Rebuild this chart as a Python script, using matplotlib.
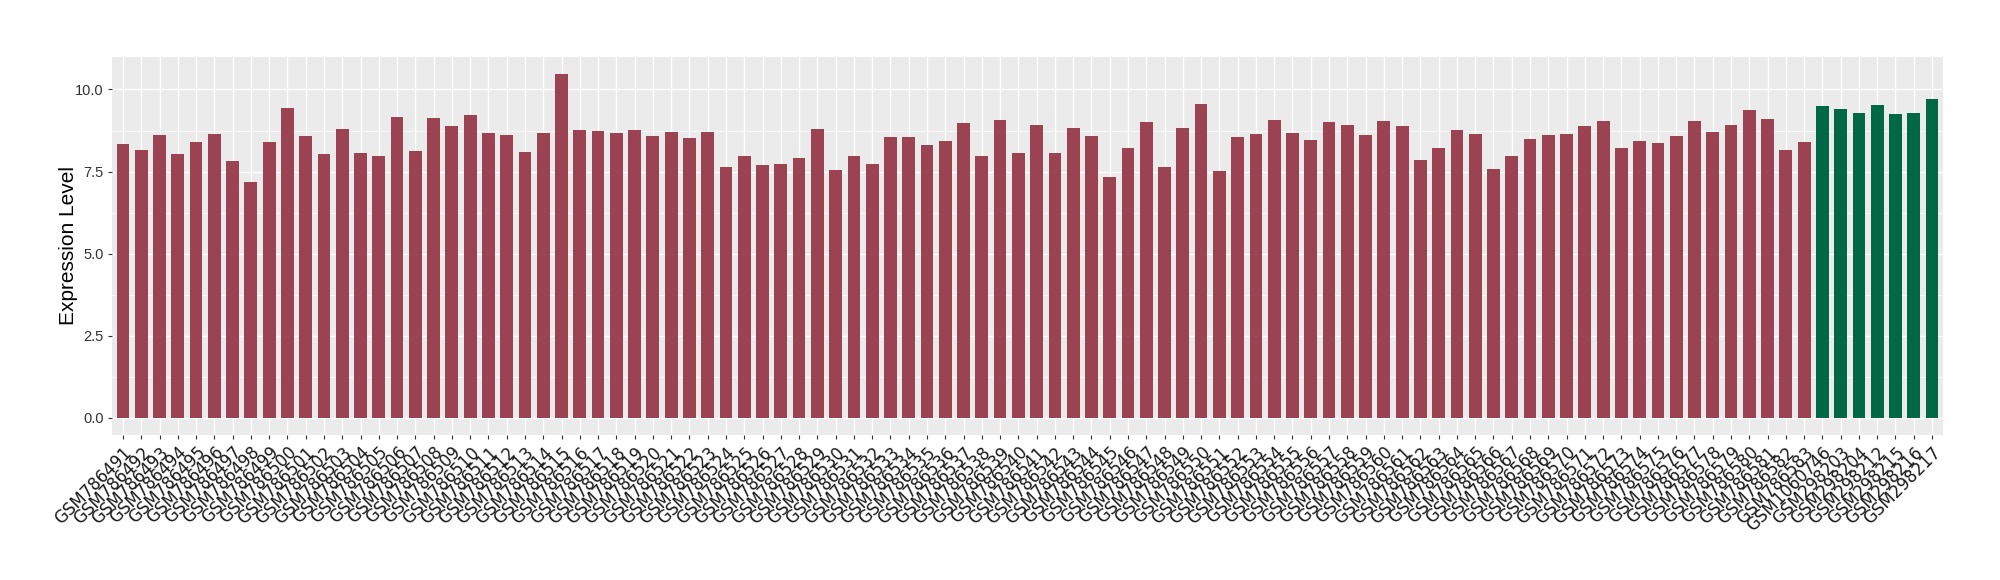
import numpy as np
import matplotlib
matplotlib.use("Agg")
import matplotlib.pyplot as plt
from matplotlib.ticker import MultipleLocator

# sample names and expression values
red_samples = [f"GSM{n}" for n in range(786491, 786584)]
green_samples = ["GSM1060746", "GSM298203", "GSM298204", "GSM298212",
                 "GSM298215", "GSM298216", "GSM298217"]

red_values = [
    8.35, 8.17, 8.60, 8.02, 8.39, 8.63, 7.81, 7.19, 8.39, 9.43,
    8.57, 8.02, 8.79, 8.08, 7.96, 9.15, 8.14, 9.12, 8.88, 9.21,
    8.66, 8.60, 8.11, 8.66, 10.47, 8.76, 8.72, 8.66, 8.76, 8.57,
    8.69, 8.51, 8.69, 7.65, 7.96, 7.71, 7.74, 7.90, 8.79, 7.56,
    7.96, 7.74, 8.54, 8.54, 8.30, 8.42, 8.97, 7.96, 9.06, 8.08,
    8.91, 8.05, 8.82, 8.57, 7.32, 8.23, 9.00, 7.65, 8.82, 9.55,
    7.53, 8.54, 8.63, 9.06, 8.66, 8.45, 9.00, 8.91, 8.60, 9.03,
    8.88, 7.84, 8.23, 8.76, 8.63, 7.59, 7.96, 8.48, 8.60, 8.63,
    8.88, 9.03, 8.23, 8.42, 8.36, 8.57, 9.03, 8.69, 8.91, 9.37,
    9.09, 8.17, 8.39,
]
green_values = [9.49, 9.40, 9.28, 9.52, 9.24, 9.28, 9.70]

RED = "#9B4352"
GREEN = "#006845"

labels = red_samples + green_samples
values = red_values + green_values
colors = [RED] * len(red_values) + [GREEN] * len(green_values)
x = np.arange(len(labels))

fig = plt.figure(figsize=(20, 5.8), dpi=100)
ax = fig.add_axes([0.056, 0.25, 0.9155, 0.652])
ax.set_facecolor("#EBEBEB")

ax.bar(x, values, width=0.7, color=colors, zorder=3)

ax.set_xlim(-0.6, len(labels) - 0.4)
ymax = max(values)
ax.set_ylim(-0.05 * ymax, ymax * 1.05)

ax.yaxis.set_major_locator(MultipleLocator(2.5))
ax.yaxis.set_minor_locator(MultipleLocator(1.25))
ax.set_yticks([0, 2.5, 5.0, 7.5, 10.0])
ax.set_yticklabels(["0.0", "2.5", "5.0", "7.5", "10.0"],
                   family="Liberation Sans", fontsize=10.5, color="#333333")
ax.grid(which="major", color="white", lw=1.0, zorder=0)
ax.grid(which="minor", axis="y", color="white", lw=0.5, zorder=0)

ax.set_xticks(x)
ax.set_xticklabels(labels, rotation=45, ha="right", va="top",
                   rotation_mode="anchor", fontsize=12, color="#1a1a1a")
ax.tick_params(axis="both", which="major", length=3, width=0.8,
               color="#333333", pad=3)
ax.tick_params(axis="y", which="minor", length=0)

for s in ax.spines.values():
    s.set_visible(False)

ax.set_ylabel("Expression Level", fontsize=15, family="Liberation Sans",
              labelpad=-2)

fig.savefig("out.png", dpi=100)
